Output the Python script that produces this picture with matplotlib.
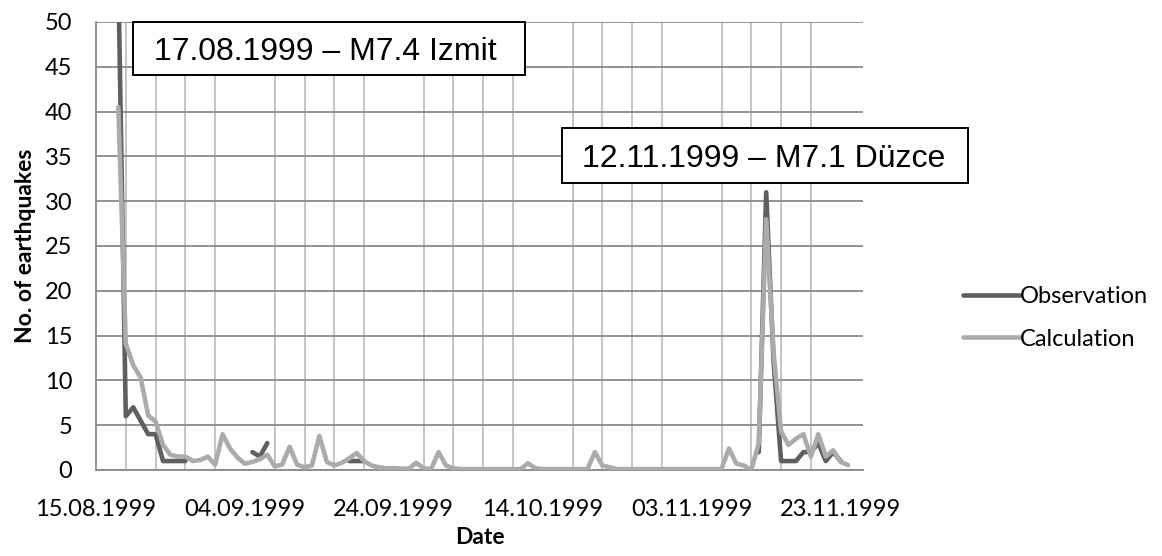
import numpy as np
import pandas as pd
import matplotlib
matplotlib.use("Agg")
import matplotlib.pyplot as plt
import matplotlib.dates as mdates
from matplotlib.patches import Rectangle

# Daily aftershock counts, starting the day after the Izmit mainshock
start_date = "1999-08-18"
observation = [
    55, 6, 7, 5.5, 4, 4, 1, 1, 1, 1,
    np.nan, np.nan, np.nan, np.nan, np.nan, np.nan, np.nan, np.nan, 2, 1.5,
    3, np.nan, np.nan, np.nan, np.nan, np.nan, np.nan, np.nan, np.nan, np.nan,
    np.nan, 1, 1, 1, np.nan, np.nan, np.nan, np.nan, np.nan, np.nan,
    np.nan, np.nan, np.nan, np.nan, np.nan, np.nan, np.nan, np.nan, np.nan, np.nan,
    np.nan, np.nan, np.nan, np.nan, np.nan, np.nan, np.nan, np.nan, np.nan, np.nan,
    np.nan, np.nan, np.nan, np.nan, np.nan, np.nan, np.nan, np.nan, np.nan, np.nan,
    np.nan, np.nan, np.nan, np.nan, np.nan, np.nan, np.nan, np.nan, np.nan, np.nan,
    np.nan, np.nan, np.nan, np.nan, np.nan, np.nan, 2, 31, 12, 1,
    1, 1, 2, 2, 3, 1, 2, 1, np.nan,
]
calculation = [
    40.5, 14.1, 11.7, 10.3, 6.1, 5.4, 2.8, 1.7, 1.5, 1.5,
    1.0, 1.1, 1.5, 0.6, 4.0, 2.4, 1.4, 0.7, 0.9, 1.2,
    1.7, 0.4, 0.6, 2.6, 0.6, 0.3, 0.5, 3.8, 0.9, 0.5,
    0.8, 1.3, 1.9, 1.0, 0.5, 0.3, 0.2, 0.2, 0.15, 0.15,
    0.8, 0.2, 0.1, 2.0, 0.5, 0.2, 0.1, 0.1, 0.1, 0.1,
    0.1, 0.1, 0.1, 0.1, 0.1, 0.75, 0.2, 0.1, 0.1, 0.1,
    0.1, 0.1, 0.1, 0.1, 2.0, 0.5, 0.3, 0.1, 0.1, 0.1,
    0.1, 0.1, 0.1, 0.1, 0.1, 0.1, 0.1, 0.1, 0.1, 0.1,
    0.1, 0.1, 2.4, 0.7, 0.5, 0.0, 3.0, 28, 13, 4.3,
    2.8, 3.5, 4.0, 1.5, 4.0, 1.5, 2.2, 0.9, 0.55,
]
series_names = ["Observation", "Calculation"]
event_labels = ["17.08.1999 \u2013 M7.4 Izmit", "12.11.1999 \u2013 M7.1 D\u00fczce"]

dates = pd.date_range(start_date, periods=len(calculation), freq="D")

label_font = ["Lato", "DejaVu Sans"]
box_font = ["Liberation Sans", "DejaVu Sans"]
W, H = 1162, 556

fig = plt.figure(figsize=(W / 100, H / 100), dpi=100)
ax = fig.add_axes([96 / W, 1 - 470 / H, (863 - 96) / W, (470 - 22) / H])

obs_color = "#5f5f5f"
calc_color = "#ababab"
ax.plot(dates, observation, color=obs_color, lw=3.3, solid_capstyle="round",
        solid_joinstyle="round", label=series_names[0], zorder=3)
ax.plot(dates, calculation, color=calc_color, lw=3.3, solid_capstyle="round",
        solid_joinstyle="round", label=series_names[1], zorder=4)

ax.set_xlim(pd.Timestamp("1999-08-15"), pd.Timestamp("1999-11-26"))
ax.set_ylim(0, 50)
ax.set_yticks(np.arange(0, 51, 5))

major = pd.date_range("1999-08-15", "1999-11-26", freq="20D")
minor = pd.date_range("1999-08-15", "1999-11-26", freq="4D")
ax.set_xticks(major)
ax.set_xticks(minor, minor=True)
ax.xaxis.set_major_formatter(mdates.DateFormatter("%d.%m.%Y"))

ax.grid(True, axis="y", color="#8a8a8a", lw=1.3, zorder=1)
ax.grid(True, axis="x", which="minor", color="#c0c0c0", lw=1.3, zorder=1)
ax.grid(False, axis="x", which="major")
ax.set_axisbelow(True)

for side in ("top", "right"):
    ax.spines[side].set_visible(False)
for side in ("left", "bottom"):
    ax.spines[side].set_color("#8a8a8a")
    ax.spines[side].set_linewidth(1.3)

ax.tick_params(axis="both", which="both", length=0, labelsize=17, colors="black")
ax.tick_params(axis="y", pad=17)
ax.tick_params(axis="x", pad=21)
for lab in ax.get_xticklabels() + ax.get_yticklabels():
    lab.set_fontfamily(label_font)

ax.set_ylabel("No. of earthquakes", fontsize=16.5, fontweight="bold",
              fontfamily=label_font, labelpad=6)
ax.set_xlabel("Date", fontsize=16.5, fontweight="bold", fontfamily=label_font,
              labelpad=5)

# Event annotation boxes (figure pixel layout)
boxes = [
    ((133, 22, 525, 75), 325),
    ((562, 128, 968, 183), 764),
]
for (x0, y0, x1, y1), xc in boxes:
    fig.add_artist(Rectangle((x0 / W, 1 - y1 / H), (x1 - x0) / W, (y1 - y0) / H,
                             transform=fig.transFigure, fc="white", ec="black",
                             lw=1.4, zorder=5))
for ((x0, y0, x1, y1), xc), label in zip(boxes, event_labels):
    fig.text(xc / W, 1 - (y0 + y1) / 2 / H, label, ha="center", va="center_baseline",
             fontsize=23, fontfamily=box_font, zorder=6)

leg = fig.legend(loc="center left", bbox_to_anchor=(963 / W, 1 - 318 / H),
                 frameon=False, prop={"family": label_font, "size": 17},
                 handlelength=2.4, handletextpad=0.0, labelspacing=0.9,
                 borderaxespad=0.0, borderpad=0.0)

fig.savefig("out.png", dpi=100)
